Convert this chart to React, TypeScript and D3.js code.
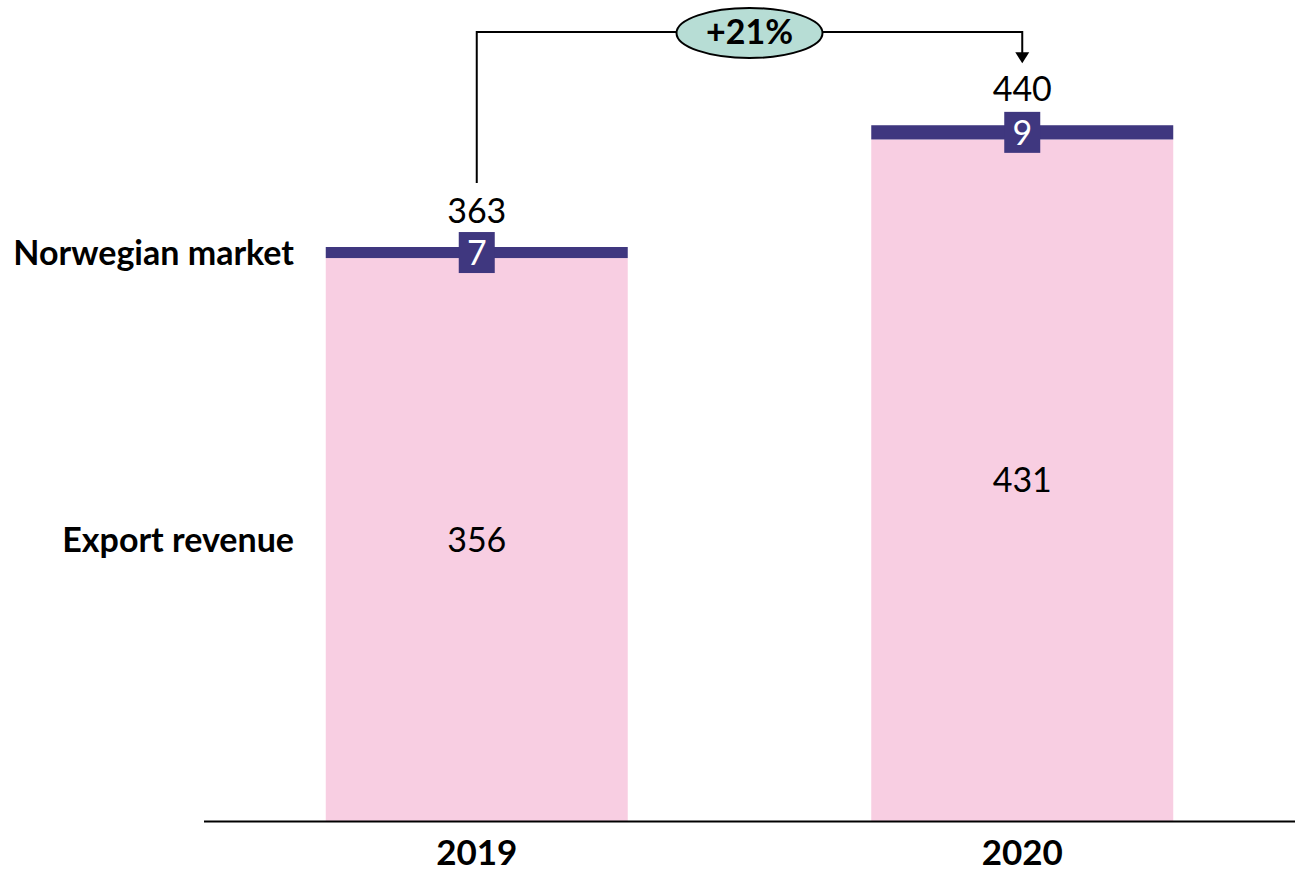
import React from "react";
import { scaleBand, scaleLinear, stack } from "d3";

const years = ["2019", "2020"];
const exportRevenue = [356, 431];
const norwegianMarket = [7, 9];
const totals = [363, 440];
const seriesLabels = ["Export revenue", "Norwegian market"];
const growthLabel = "+21%";

const W = 1295;
const H = 871;
const FONT = "Lato, 'Noto Sans', sans-serif";
const PINK = "#f8cee2";
const NAVY = "#3f377f";

const App = () => {
  const rows = years.map((y, i) => ({
    year: y,
    exp: exportRevenue[i],
    nor: norwegianMarket[i],
  }));
  const layers = stack<any>().keys(["exp", "nor"])(rows);

  const x = scaleBand()
    .domain(years)
    .range([204, 1295])
    .paddingInner(0.4464)
    .paddingOuter(0.2232);
  const y = scaleLinear().domain([0, 363]).range([821, 247]);

  const cx = (yr: string) => (x(yr) as number) + x.bandwidth() / 2;
  const topY = (i: number) => y(totals[i]);

  // connector
  const x0 = cx(years[0]);
  const x1 = cx(years[1]);
  const lineY = 32;
  const ellX = (x0 + x1) / 2;

  return (
    <svg width={W} height={H} style={{ position: "absolute", left: 0, top: 0 }} fontFamily={FONT}>
      {layers.map((layer) => (
        <g key={layer.key} fill={layer.key === "exp" ? PINK : NAVY}>
          {layer.map((d, i) => (
            <rect
              key={i}
              x={x(d.data.year)}
              y={y(d[1])}
              width={x.bandwidth()}
              height={y(d[0]) - y(d[1])}
            />
          ))}
        </g>
      ))}

      {/* export value labels */}
      {rows.map((r, i) => (
        <text
          key={"e" + i}
          x={cx(r.year)}
          y={(y(0) + y(r.exp)) / 2}
          dy="0.36em"
          textAnchor="middle"
          fontSize={34}
          fill="#000"
        >
          {r.exp}
        </text>
      ))}

      {/* norwegian value boxes */}
      {rows.map((r, i) => {
        const my = (y(r.exp) + y(r.exp + r.nor)) / 2;
        return (
          <g key={"n" + i}>
            <rect x={cx(r.year) - 18} y={my - 20.5} width={36} height={41} fill={NAVY} />
            <text
              x={cx(r.year)}
              y={my}
              dy="0.36em"
              textAnchor="middle"
              fontSize={34}
              fill="#fff"
            >
              {r.nor}
            </text>
          </g>
        );
      })}

      {/* totals */}
      {rows.map((r, i) => (
        <text
          key={"t" + i}
          x={cx(r.year)}
          y={topY(i) - 24}
          textAnchor="middle"
          fontSize={34}
          fill="#000"
        >
          {totals[i]}
        </text>
      ))}

      {/* axis */}
      <line x1={204} x2={1295} y1={821.5} y2={821.5} stroke="#000" strokeWidth={2} />
      {years.map((yr) => (
        <text
          key={yr}
          x={cx(yr)}
          y={865}
          textAnchor="middle"
          fontSize={35}
          fontWeight="bold"
          fill="#000"
        >
          {yr}
        </text>
      ))}

      {/* series labels on left */}
      <text x={294} y={253} dy="0.36em" textAnchor="end" fontSize={34} fontWeight="bold">
        {seriesLabels[1]}
      </text>
      <text x={294} y={540} dy="0.36em" textAnchor="end" fontSize={34} fontWeight="bold">
        {seriesLabels[0]}
      </text>

      {/* growth connector */}
      <path
        d={`M${x0},${topY(0) - 64} V${lineY} H${x1} V${topY(1) - 72}`}
        fill="none"
        stroke="#000"
        strokeWidth={2}
      />
      <path
        d={`M${x1 - 7},${topY(1) - 73} L${x1 + 7},${topY(1) - 73} L${x1},${topY(1) - 62} Z`}
        fill="#000"
      />
      <ellipse cx={ellX} cy={33} rx={73} ry={25} fill="#b7ddd5" stroke="#000" strokeWidth={2} />
      <text
        x={ellX}
        y={lineY}
        dy="0.36em"
        textAnchor="middle"
        fontSize={34}
        fontWeight="bold"
      >
        {growthLabel}
      </text>
    </svg>
  );
};

export default App;
